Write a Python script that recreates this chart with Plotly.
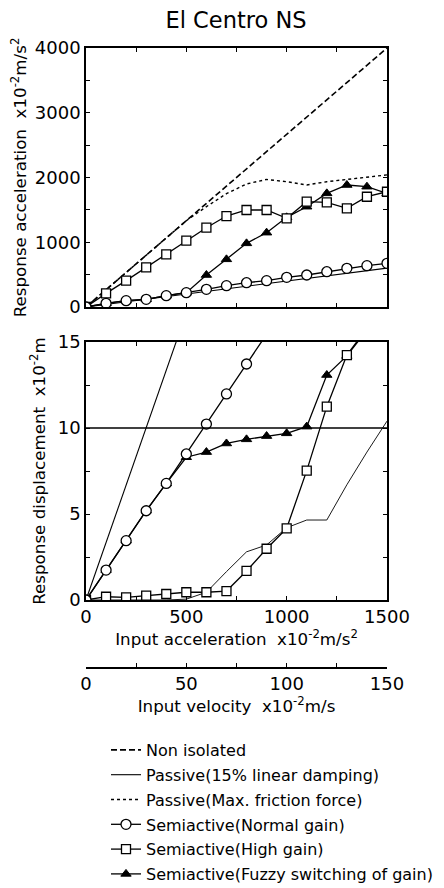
import plotly.graph_objects as go

# ---------------- data ----------------
accel_in = [0, 100, 200, 300, 400, 500, 600, 700, 800, 900, 1000, 1100, 1200, 1300, 1400, 1500]

non_iso_x = [0, 1500]
non_iso_acc = [0, 4000]

passive_x = [0, 500, 1000, 1500]
passive_acc = [0, 200, 400, 600]
passive_disp = [0, 16.7, 33.4, 50.1]

friction_acc = [0, 267, 533, 800, 1067, 1333, 1550, 1750, 1900, 1970, 1935, 1885, 1935, 1970, 2000, 2040]
friction_disp = [0, 0, 0, 0, 0, 0.05, 0.45, 1.65, 2.8, 3.2, 4.2, 4.65, 4.65, 6.7, 8.6, 10.4]

normal_acc = [0, 57, 98, 118, 175, 221, 273, 329, 375, 407, 458, 494, 545, 597, 638, 674]
normal_disp = [0, 1.74, 3.45, 5.19, 6.78, 8.49, 10.23, 11.98, 13.72, 15.45]

high_acc = [0, 211, 407, 612, 813, 1024, 1225, 1405, 1498, 1498, 1369, 1626, 1616, 1524, 1703, 1780]
high_disp = [0, 0.19, 0.15, 0.25, 0.35, 0.45, 0.45, 0.52, 1.69, 2.98, 4.17, 7.52, 11.24, 14.24, 15.8]

fuzzy_acc = [0, 57, 98, 118, 175, 221, 494, 736, 983, 1148, 1385, 1549, 1755, 1884, 1858, 1755]
fuzzy_disp = [0, 1.74, 3.45, 5.19, 6.78, 8.3, 8.6, 9.1, 9.34, 9.53, 9.69, 10.08, 13.08, 14.19, 15.7]

limit_disp = 10

vel_range = [0, 150]
acc_range = [0, 1500]
racc_range = [0, 4000]
disp_range = [0, 15]

names = ["Non isolated", "Passive(15% linear damping)", "Passive(Max. friction force)",
         "Semiactive(Normal gain)", "Semiactive(High gain)", "Semiactive(Fuzzy switching of gain)"]

# ---------------- figure ----------------
FONT = "DejaVu Sans, Liberation Sans, Arial, sans-serif"
BLK = "black"
fig = go.Figure()

def add(x, y, name, rank, xa, ya, show, dash="solid", width=1.3, marker=None):
    kw = dict(x=x, y=y, name=name, legendrank=rank, xaxis=xa, yaxis=ya,
              showlegend=show, legendgroup=name, hoverinfo="skip",
              line=dict(color=BLK, width=width, dash=dash))
    if marker:
        kw["mode"] = "lines+markers"
        kw["marker"] = marker
    else:
        kw["mode"] = "lines"
    fig.add_trace(go.Scatter(**kw))

tri = dict(symbol="triangle-up", size=9, color=BLK, line=dict(color=BLK, width=1))
sq = dict(symbol="square", size=9, color="white", line=dict(color=BLK, width=1.3))
circ = dict(symbol="circle", size=10, color="white", line=dict(color=BLK, width=1.3))

# top: response acceleration
add(non_iso_x, non_iso_acc, names[0], 1, "x", "y", True, dash="6px,3px", width=1.6)
add(passive_x, passive_acc, names[1], 2, "x", "y", True, width=1.1)
add(accel_in, friction_acc, names[2], 3, "x", "y", True, dash="dot", width=1.4)
add(accel_in, fuzzy_acc, names[5], 6, "x", "y", True, marker=tri)
add(accel_in, high_acc, names[4], 5, "x", "y", True, marker=sq)
add(accel_in, normal_acc, names[3], 4, "x", "y", True, marker=circ)

# bottom: response displacement
add(passive_x, passive_disp, names[1], 2, "x2", "y2", False, width=1.1)
add(accel_in, friction_disp, names[2], 3, "x2", "y2", False, width=0.9)
add(accel_in[:len(fuzzy_disp)], fuzzy_disp, names[5], 6, "x2", "y2", False, marker=tri)
add(accel_in[:len(high_disp)], high_disp, names[4], 5, "x2", "y2", False, marker=sq)
add(accel_in[:len(normal_disp)], normal_disp, names[3], 4, "x2", "y2", False, marker=circ)

# velocity axis carrier (invisible)
fig.add_trace(go.Scatter(x=vel_range, y=[None, None], xaxis="x3", yaxis="y2",
                         showlegend=False, hoverinfo="skip", mode="lines"))

fig.add_shape(type="line", xref="x2 domain", x0=0, x1=1, yref="y2", y0=limit_disp, y1=limit_disp,
              line=dict(color=BLK, width=1.5))

# the page body has an 8px margin: work in reference pixels, shifted by OFF
OFF = 8
W, H = 444 - OFF, 888 - OFF
PL, PR_X = 86 - OFF, 387 - OFF
PT = 48 - OFF
PBOT = 668 - OFF
PB = H - PBOT
PH = PBOT - PT
def py(p):
    return (PBOT - (p - OFF)) / PH
def px(p):
    return ((p - OFF) - PL) / (PR_X - PL)

def ax(major, minor, **extra):
    d = dict(showline=True, linecolor=BLK, linewidth=1.5, mirror="ticks",
             ticks="inside", ticklen=4, tickcolor=BLK, tickwidth=1,
             tickmode="linear", tick0=0, dtick=major,
             minor=dict(ticks="inside", dtick=minor, tick0=0, ticklen=4, tickcolor=BLK, tickwidth=1,
                        showgrid=False),
             showgrid=False, zeroline=False, automargin=False,
             tickfont=dict(family=FONT, size=18, color=BLK))
    d.update(extra)
    return d

title_font = dict(family=FONT, size=16.7, color=BLK)

fig.update_layout(
    width=W, height=H,
    margin=dict(l=PL, r=W - PR_X, t=PT, b=PB, autoexpand=False),
    paper_bgcolor="white", plot_bgcolor="white",
    font=dict(family=FONT, color=BLK),
    title=dict(text="El Centro NS", x=(236 - OFF) / W, xanchor="center", y=1 - (20 - OFF) / H,
               yanchor="middle", font=dict(family=FONT, size=22.5, color=BLK)),
    xaxis=ax(500, 250, domain=[0, 1], anchor="y", range=acc_range, showticklabels=False),
    yaxis=ax(1000, 500, domain=[py(307), py(48)], anchor="x", range=racc_range,
             title=dict(text="Response acceleration  x10<sup>-2</sup>m/s<sup>2</sup>",
                        font=title_font, standoff=8)),
    xaxis2=ax(500, 250, domain=[0, 1], anchor="y2", range=acc_range,
              title=dict(text="Input acceleration  x10<sup>-2</sup>m/s<sup>2</sup>",
                         font=title_font, standoff=4)),
    yaxis2=ax(5, 2.5, domain=[py(600), py(342)], anchor="x2", range=disp_range,
              title=dict(text="Response displacement  x10<sup>-2</sup>m",
                         font=title_font, standoff=8)),
    xaxis3=ax(50, 25, overlaying="x2", anchor="free", position=0, side="bottom", range=vel_range,
              mirror=False,
              title=dict(text="Input velocity  x10<sup>-2</sup>m/s", font=title_font, standoff=2)),
    legend=dict(x=px(106), y=py(733), xanchor="left", yanchor="top",
                font=dict(family=FONT, size=16, color=BLK), tracegroupgap=1,
                bgcolor="rgba(0,0,0,0)"),
)

fig.write_html("out.html")
